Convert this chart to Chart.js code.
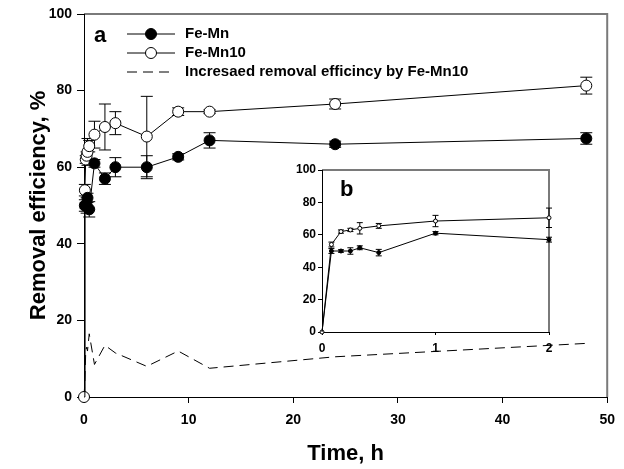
<!DOCTYPE html>
<html>
<head>
<meta charset="utf-8">
<script src="https://cdn.jsdelivr.net/npm/chart.js@4"></script>
<style>
  body { margin: 0; background: #fff; }
  #wrap { position: relative; width: 624px; height: 469px; }
  #main { position: absolute; left: 0; top: 0; }
  #inset { position: absolute; left: 230px; top: 150px; }
</style>
</head>
<body>
<div id="wrap">
  <canvas id="main" width="624" height="469"></canvas>
  <canvas id="inset" width="330" height="210"></canvas>
</div>
<script>
// sampling times (h)
const times = [0, 0.083, 0.167, 0.25, 0.333, 0.5, 1, 2, 3, 6, 9, 12, 24, 48];
// removal efficiency, %
const feMn = [0, 50, 50, 50, 52, 49, 61, 57, 60, 60, 62.7, 67, 66, 67.5];
const feMnErr = [0, 1.5, 0.8, 2, 1.2, 2, 1, 1.5, 2.5, 3, 0.8, 2, 0.8, 1.5];
const feMn10 = [0, 54, 62, 63, 64, 65.5, 68.5, 70.5, 71.5, 68, 74.5, 74.5, 76.5, 81.3];
const feMn10Err = [0, 1.5, 1, 1, 3.5, 1.5, 3.5, 6, 3, 10.5, 1, 0.5, 1.3, 2.2];
const increase = [0, 4, 12, 13, 12, 16.5, 8.5, 13.5, 11.5, 8, 12, 7.5, 10.5, 14];
// inset covers the first 2 hours
const insetN = 8;

const FONT = "Arial, 'Liberation Sans', sans-serif";

function pts(xs, ys) {
    return xs.map((x, i) => ({x: x, y: ys[i]}));
}

// the filled t=0 marker is hidden under the open one in the original
function skipFirst(r) {
    return ctx => ctx.dataIndex === 0 ? 0 : r;
}

// gray top/right frame
const framePlugin = {
    id: 'frame',
    beforeDraw(chart) {
        const {ctx, chartArea: a} = chart;
        ctx.save();
        ctx.strokeStyle = '#7a7a7a';
        ctx.lineWidth = 2;
        ctx.beginPath();
        ctx.moveTo(a.left, a.top);
        ctx.lineTo(a.right, a.top);
        ctx.lineTo(a.right, a.bottom);
        ctx.stroke();
        ctx.restore();
    }
};

// vertical error bars with caps
const errorBars = {
    id: 'errorBars',
    beforeDatasetsDraw(chart, args, opts) {
        const {ctx} = chart;
        const ys = chart.scales.y;
        ctx.save();
        ctx.strokeStyle = '#000';
        ctx.lineWidth = 1;
        chart.data.datasets.forEach((ds, di) => {
            if (!ds.errors) return;
            const meta = chart.getDatasetMeta(di);
            meta.data.forEach((p, i) => {
                const e = ds.errors[i];
                if (!e) return;
                const v = ds.data[i].y;
                const y1 = ys.getPixelForValue(v - e);
                const y2 = ys.getPixelForValue(v + e);
                const w = opts.cap;
                ctx.beginPath();
                ctx.moveTo(p.x, y1); ctx.lineTo(p.x, y2);
                ctx.moveTo(p.x - w, y1); ctx.lineTo(p.x + w, y1);
                ctx.moveTo(p.x - w, y2); ctx.lineTo(p.x + w, y2);
                ctx.stroke();
            });
        });
        ctx.restore();
    }
};

// in-plot legend and panel letter
const legendPlugin = {
    id: 'inLegend',
    afterDraw(chart, args, opts) {
        const {ctx} = chart;
        ctx.save();
        ctx.fillStyle = '#000';
        ctx.textBaseline = 'middle';
        if (opts.letter) {
            ctx.font = 'bold 22px ' + FONT;
            ctx.fillText(opts.letter, opts.letterX, opts.letterY);
        }
        if (opts.rows) {
            chart.data.datasets.forEach((ds, i) => {
                const y = opts.y0 + i * opts.dy;
                ctx.strokeStyle = '#000';
                ctx.lineWidth = 1;
                ctx.setLineDash(ds.borderDash || []);
                ctx.beginPath();
                ctx.moveTo(opts.x0, y); ctx.lineTo(opts.x1, y);
                ctx.stroke();
                ctx.setLineDash([]);
                if (ds.markerSize) {
                    ctx.beginPath();
                    ctx.arc((opts.x0 + opts.x1) / 2, y, ds.markerSize, 0, Math.PI * 2);
                    ctx.fillStyle = ds.pointBackgroundColor;
                    ctx.fill();
                    ctx.stroke();
                }
                ctx.fillStyle = '#000';
                ctx.font = 'bold 15px ' + FONT;
                ctx.fillText(ds.label, opts.tx, y);
            });
        }
        ctx.restore();
    }
};

function axis(min, max, step, fontSize, tickLen, pad, fit, title) {
    const s = {
        type: 'linear', min: min, max: max,
        ticks: {stepSize: step, color: '#000', padding: pad, font: {family: FONT, size: fontSize, weight: 'bold'}},
        grid: {drawOnChartArea: false, drawTicks: true, tickLength: tickLen, color: '#000'},
        border: {color: '#000', width: 1},
        afterFit: fit
    };
    if (title) s.title = title;
    return s;
}

new Chart(document.getElementById('main'), {
    type: 'line',
    data: {
        datasets: [{
            label: 'Fe-Mn',
            data: pts(times, feMn),
            errors: feMnErr,
            clip: false,
            borderColor: '#000', borderWidth: 1,
            markerSize: 5.5,
            pointRadius: skipFirst(5.5), pointBackgroundColor: '#000', pointBorderColor: '#000', pointBorderWidth: 1
        }, {
            label: 'Fe-Mn10',
            data: pts(times, feMn10),
            errors: feMn10Err,
            clip: false,
            borderColor: '#000', borderWidth: 1,
            markerSize: 5.5,
            pointRadius: 5.5, pointBackgroundColor: '#fff', pointBorderColor: '#000', pointBorderWidth: 1
        }, {
            label: 'Incresaed removal efficincy by Fe-Mn10',
            data: pts(times, increase),
            clip: false,
            borderColor: '#000', borderWidth: 1, borderDash: [10, 6],
            pointRadius: 0
        }]
    },
    options: {
        responsive: false,
        animation: false,
        layout: {padding: {top: 14, right: 7, left: 0, bottom: 0}},
        plugins: {
            legend: {display: false},
            tooltip: {enabled: false},
            errorBars: {cap: 6},
            inLegend: {letter: 'a', letterX: 94, letterY: 36, rows: true, x0: 127, x1: 175, y0: 34, dy: 19, tx: 185}
        },
        scales: {
            x: axis(0, 50, 10, 14, 6, 9, s => { s.height = 72; },
                {display: true, text: 'Time, h', color: '#000', font: {family: FONT, size: 22, weight: 'bold'}, padding: {top: 0, bottom: 2}}),
            y: axis(0, 100, 20, 14, 7, 5, s => { s.width = 84; },
                {display: true, text: 'Removal efficiency, %', color: '#000', font: {family: FONT, size: 22, weight: 'bold'}, padding: {top: 26, bottom: 0}})
        }
    },
    plugins: [framePlugin, errorBars, legendPlugin]
});

new Chart(document.getElementById('inset'), {
    type: 'line',
    data: {
        datasets: [{
            label: 'Fe-Mn',
            data: pts(times.slice(0, insetN), feMn.slice(0, insetN)),
            errors: feMnErr.slice(0, insetN),
            clip: false,
            borderColor: '#000', borderWidth: 1,
            pointRadius: skipFirst(2), pointBackgroundColor: '#000', pointBorderColor: '#000', pointBorderWidth: 1
        }, {
            label: 'Fe-Mn10',
            data: pts(times.slice(0, insetN), feMn10.slice(0, insetN)),
            errors: feMn10Err.slice(0, insetN),
            clip: false,
            borderColor: '#000', borderWidth: 1,
            pointRadius: 2, pointBackgroundColor: '#fff', pointBorderColor: '#000', pointBorderWidth: 1
        }]
    },
    options: {
        responsive: false,
        animation: false,
        layout: {padding: {top: 20, right: 11, left: 0, bottom: 0}},
        plugins: {
            legend: {display: false},
            tooltip: {enabled: false},
            errorBars: {cap: 3},
            inLegend: {letter: 'b', letterX: 110, letterY: 40, rows: false}
        },
        scales: {
            x: axis(0, 2, 1, 12, 3, 6, s => { s.height = 28; }),
            y: axis(0, 100, 20, 12, 4, 2, s => { s.width = 92; })
        }
    },
    plugins: [framePlugin, errorBars, legendPlugin]
});
</script>
</body>
</html>
